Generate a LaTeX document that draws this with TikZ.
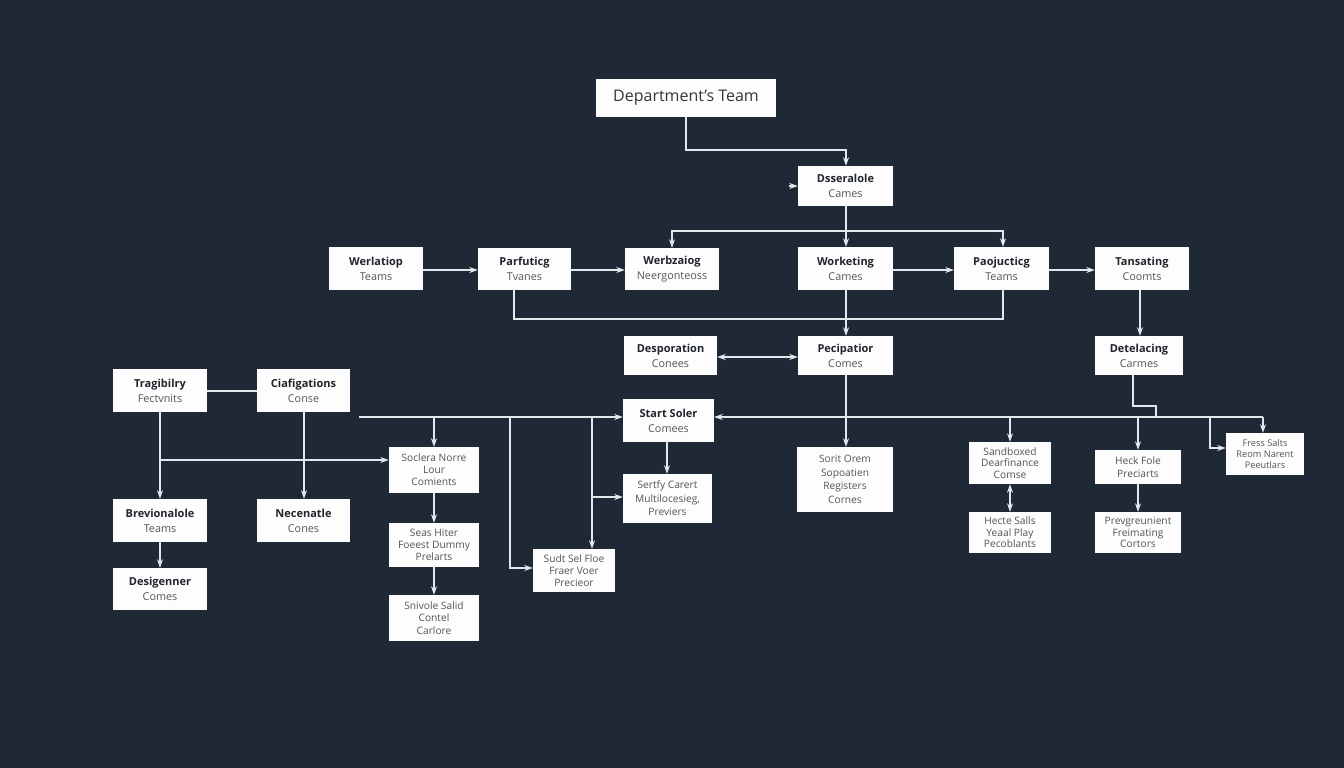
\documentclass[tikz,border=0pt]{standalone}
\usepackage{fontspec}
\setmainfont{Open Sans}
\usetikzlibrary{arrows.meta,calc}
\definecolor{bgc}{HTML}{1F2835}
\definecolor{linec}{HTML}{E2E7EC}
\definecolor{boxc}{HTML}{FDFDFD}
\definecolor{ttlc}{HTML}{20242B}
\definecolor{subc}{HTML}{50555C}
\newcommand{\ttl}[2]{{\fontsize{11}{15}\selectfont\bfseries\color{ttlc}#1}\\{\fontsize{10.8}{15}\selectfont\color{subc}#2}}
\newcommand{\bx}[6]{\node[boxn,font=\fontsize{11}{15}\selectfont,minimum width={(#4-#2)*1pt},minimum height={(#5-#3)*1pt}] (#1) at ({(#2+#4)/2},{(#3+#5)/2}) {#6};}
\newcommand{\bs}[7]{\node[boxn,font=\fontsize{10.2}{#6}\selectfont,minimum width={(#4-#2)*1pt},minimum height={(#5-#3)*1pt}] (#1) at ({(#2+#4)/2},{(#3+#5)/2}) {#7};}
\tikzset{
  boxn/.style={fill=boxc,draw=none,inner sep=0pt,align=center,text=subc},
  conn/.style={draw=linec,line width=1.1pt,line join=miter},
  arr/.style={conn,-{Stealth[length=8.5pt,width=6pt]}},
  darr/.style={conn,{Stealth[length=8.5pt,width=6pt]}-{Stealth[length=8.5pt,width=6pt]}}
}
\begin{document}
\begin{tikzpicture}[x=1pt,y=-1pt]
\fill[bgc] (0,0) rectangle (1344,768);
\useasboundingbox (0,0) rectangle (1344,768);
% boxes
\node[boxn,font=\fontsize{16}{18}\selectfont,text=ttlc!92,minimum width=180pt,minimum height=38pt] (dept) at (686,98) {Department's Team};
\bx{dsse}{798}{166}{893}{206}{\ttl{Dsseralole}{Cames}}
\bx{werl}{329}{247}{423}{290}{\ttl{Werlatiop}{Teams}}
\bx{parf}{478}{248}{571}{290}{\ttl{Parfuticg}{Tvanes}}
\bx{werb}{625}{248}{719}{290}{\ttl{Werbzaiog}{Neergonteoss}}
\bx{work}{798}{247}{893}{290}{\ttl{Worketing}{Cames}}
\bx{paoj}{954}{247}{1049}{290}{\ttl{Paojucticg}{Teams}}
\bx{tans}{1095}{247}{1189}{290}{\ttl{Tansating}{Coomts}}
\bx{desp}{624}{336}{717}{375}{\ttl{Desporation}{Conees}}
\bx{peci}{798}{336}{893}{375}{\ttl{Pecipatior}{Comes}}
\bx{dete}{1095}{336}{1183}{375}{\ttl{Detelacing}{Carmes}}
\bx{trag}{113}{369}{207}{412}{\ttl{Tragibilry}{Fectvnits}}
\bx{ciaf}{257}{369}{350}{412}{\ttl{Ciafigations}{Conse}}
\bx{brev}{113}{499}{207}{542}{\ttl{Brevionalole}{Teams}}
\bx{nece}{257}{499}{350}{542}{\ttl{Necenatle}{Cones}}
\bx{desi}{113}{568}{207}{610}{\ttl{Desigenner}{Comes}}
\bs{socl}{389}{447}{479}{493}{12}{Soclera Norre\\Lour\\Comients}
\bs{seas}{389}{523}{479}{567}{12}{Seas Hiter\\Foeest Dummy\\Prelarts}
\bs{sniv}{389}{595}{479}{641}{12.5}{Snivole Salid\\Contel\\Carlore}
\bs{star}{623}{399}{714}{442}{15}{\ttl{Start Soler}{Comees}}
\bs{sert}{623}{474}{712}{523}{13.5}{Sertfy Carert\\Multilocesieg,\\Previers}
\bs{sudt}{533}{549}{615}{592}{12}{Sudt Sel Floe\\Fraer Voer\\Precieor}
\bs{sori}{797}{447}{893}{512}{13.5}{Sorit Orem\\Sopoatien\\Registers\\Cornes}
\bs{sand}{969}{442}{1051}{484}{11.5}{Sandboxed\\Dearfinance\\Comse}
\bs{hect}{969}{512}{1051}{553}{11.5}{Hecte Salls\\Yeaal Play\\Pecoblants}
\bs{heck}{1095}{450}{1181}{484}{12.5}{Heck Fole\\Preciarts}
\bs{prog}{1095}{512}{1181}{553}{11.5}{Prevgreunient\\Freimating\\Cortors}
\node[boxn,font=\fontsize{9.2}{11}\selectfont,minimum width=78pt,minimum height=42pt] (fres) at (1265,454) {Fress Salts\\Reom Narent\\Peeutlars};
% junction coordinates
\coordinate (dbus) at (846,150);
\coordinate (tbus) at (846,231);
\coordinate (tl) at (672,231);
\coordinate (tr) at (1003,231);
\coordinate (ploop) at (514,319);
\coordinate (pr) at (1003,319);
\coordinate (stub) at (789,186);
\coordinate (lbus) at (359,417);
\coordinate (rbus) at (1263,417);
\coordinate (dj1) at (1133,406);
\coordinate (dj2) at (1156,406);
\coordinate (dj3) at (1156,417);
\coordinate (b434) at (434,417);
\coordinate (b510) at (510,417);
\coordinate (b592) at (592,417);
\coordinate (b1010) at (1010,417);
\coordinate (b1138) at (1138,417);
\coordinate (b1210) at (1210,417);
\coordinate (s497) at (592,497);
\coordinate (v510) at (510,568);
\coordinate (v1210) at (1210,448);
\coordinate (l460) at (160,460);
% top
\draw[arr] (dept.south) |- (dbus) -- (dsse.north -| dbus);
\draw[arr] (stub) -- (dsse.west |- stub);
\draw[arr] (dsse.south -| dbus) -- (work.north -| dbus);
\draw[arr] (tbus) -| (werb.north -| tl);
\draw[arr] (tbus) -| (paoj.north -| tr);
% row
\draw[arr] (werl.east |- 0,270) -- (parf.west |- 0,270);
\draw[arr] (parf.east |- 0,270) -- (werb.west |- 0,270);
\draw[arr] (work.east |- 0,270) -- (paoj.west |- 0,270);
\draw[arr] (paoj.east |- 0,270) -- (tans.west |- 0,270);
\draw[conn] (parf.south -| ploop) |- (pr) -- (paoj.south -| pr);
\draw[arr] (work.south -| dbus) -- (peci.north -| dbus);
\draw[darr] (desp.east |- 0,357) -- (peci.west |- 0,357);
\draw[arr] (tans.south -| 1140,0) -- (dete.north -| 1140,0);
\draw[arr] (peci.south -| dbus) -- (sori.north -| dbus);
\draw[conn] (dete.south -| dj1) -- (dj1) -- (dj2) -- (dj3);
% bus
\draw[arr] (lbus) -- (star.west |- lbus);
\draw[arr] (rbus) -- (star.east |- rbus);
\draw[arr] (rbus) -- (fres.north -| rbus);
\draw[arr] (b434) -- (socl.north -| b434);
\draw[arr] (b510) -- (v510) -- (sudt.west |- v510);
\draw[arr] (b592) -- (sudt.north -| b592);
\draw[arr] (s497) -- (sert.west |- s497);
\draw[arr] (star.south -| 667,0) -- (sert.north -| 667,0);
\draw[arr] (b1010) -- (sand.north -| b1010);
\draw[arr] (b1138) -- (heck.north -| b1138);
\draw[arr] (b1210) -- (v1210) -- (fres.west |- v1210);
\draw[darr] (sand.south -| b1010) -- (hect.north -| b1010);
\draw[arr] (heck.south -| b1138) -- (prog.north -| b1138);
% left
\draw[conn] (trag.east |- 0,391) -- (ciaf.west |- 0,391);
\draw[arr] (trag.south -| l460) -- (brev.north -| l460);
\draw[arr] (brev.south -| l460) -- (desi.north -| l460);
\draw[arr] (ciaf.south -| 304,0) -- (nece.north -| 304,0);
\draw[arr] (l460) -- (socl.west |- l460);
\draw[arr] (socl.south -| b434) -- (seas.north -| b434);
\draw[arr] (seas.south -| b434) -- (sniv.north -| b434);
\end{tikzpicture}
\end{document}
